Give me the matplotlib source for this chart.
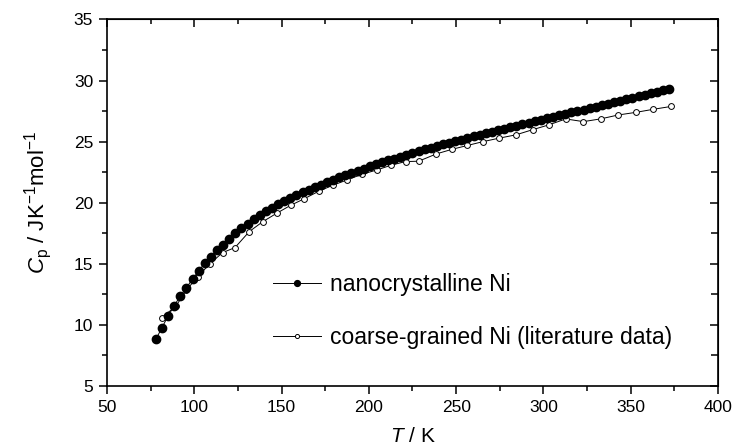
import matplotlib
matplotlib.use('Agg')
import matplotlib.pyplot as plt
from matplotlib.ticker import MultipleLocator

plt.rcParams['font.family'] = ['Liberation Sans', 'DejaVu Sans']
plt.rcParams['mathtext.fontset'] = 'custom'
plt.rcParams['mathtext.rm'] = 'Liberation Sans'
plt.rcParams['mathtext.it'] = 'Liberation Sans:italic'

# nanocrystalline Ni (filled circles)
t_nano = [78, 81.5, 85, 88.5, 92, 95.5, 99, 102.5, 106, 109.5,
          113, 116.5, 120, 123.5, 127, 130.5, 134, 137.5, 141, 144.5,
          148, 151.5, 155, 158.5, 162, 165.5, 169, 172.5, 176, 179.5,
          183, 186.5, 190, 193.5, 197, 200.5, 204, 207.5, 211, 214.5,
          218, 221.5, 225, 228.5, 232, 235.5, 239, 242.5, 246, 249.5,
          253, 256.5, 260, 263.5, 267, 270.5, 274, 277.5, 281, 284.5,
          288, 291.5, 295, 298.5, 302, 305.5, 309, 312.5, 316, 319.5,
          323, 326.5, 330, 333.5, 337, 340.5, 344, 347.5, 351, 354.5,
          358, 361.5, 365, 368.5, 372]
cp_nano = [8.83, 9.78, 10.74, 11.58, 12.37, 13.05, 13.76, 14.42, 15.05, 15.59,
           16.11, 16.57, 17.06, 17.50, 17.91, 18.29, 18.65, 18.98, 19.29, 19.58,
           19.86, 20.12, 20.37, 20.61, 20.84, 21.06, 21.28, 21.49, 21.69, 21.89,
           22.08, 22.27, 22.45, 22.63, 22.80, 22.97, 23.14, 23.30, 23.46, 23.62,
           23.77, 23.92, 24.07, 24.22, 24.36, 24.50, 24.64, 24.78, 24.91, 25.04,
           25.17, 25.30, 25.43, 25.56, 25.69, 25.82, 25.95, 26.07, 26.19, 26.31,
           26.43, 26.55, 26.67, 26.79, 26.91, 27.03, 27.15, 27.27, 27.39, 27.51,
           27.63, 27.75, 27.87, 27.99, 28.11, 28.23, 28.35, 28.47, 28.59, 28.71,
           28.83, 28.95, 29.07, 29.19, 29.31]

# coarse-grained Ni, literature data (open circles)
t_coarse = [81.5, 89.5, 95.5, 102, 108.8, 116.2, 123.3, 131.5, 139.2, 147.2,
            155.2, 163, 171.3, 179.3, 187.6, 196, 204.5, 212.7, 221, 228.5,
            238.7, 247.8, 256.5, 265.3, 274.4, 284.3, 293.8, 303, 312.8, 322.9,
            333, 342.7, 353, 363, 373]
cp_coarse = [10.6, 11.55, 12.86, 13.95, 14.99, 15.92, 16.33, 17.64, 18.45, 19.14,
             19.79, 20.33, 20.94, 21.43, 21.87, 22.33, 22.68, 23.07, 23.37, 23.40,
             24.0, 24.38, 24.69, 25.0, 25.28, 25.56, 25.98, 26.37, 26.86, 26.64,
             26.87, 27.18, 27.4, 27.65, 27.88]

fig = plt.figure(figsize=(7.33, 4.46), dpi=100)
ax = fig.add_axes([0.146, 0.1345, 0.8335, 0.8218])

l_coarse, = ax.plot(t_coarse, cp_coarse, '-o', color='black', lw=0.7,
                    ms=4.2, mfc='white', mec='black', mew=0.7,
                    label='coarse-grained Ni (literature data)')
l_nano, = ax.plot(t_nano, cp_nano, '-o', color='black', lw=0.7,
                  ms=6.0, mfc='black', mec='black',
                  label='nanocrystalline Ni')

ax.set_xlim(50, 400)
ax.set_ylim(5, 35)
ax.xaxis.set_major_locator(MultipleLocator(50))
ax.xaxis.set_minor_locator(MultipleLocator(25))
ax.yaxis.set_major_locator(MultipleLocator(5))
ax.yaxis.set_minor_locator(MultipleLocator(2.5))
ax.tick_params(which='both', direction='out', width=1.1, labelsize=12.5,
               colors='black', pad=4)
ax.tick_params(which='major', length=6)
ax.tick_params(which='minor', length=3.5)
for s in ax.spines.values():
    s.set_linewidth(1.2)

top = ax.secondary_xaxis('top')
top.xaxis.set_major_locator(MultipleLocator(50))
top.xaxis.set_minor_locator(MultipleLocator(25))
top.tick_params(which='both', direction='in', labeltop=False, width=1.1)
top.tick_params(which='major', length=6)
top.tick_params(which='minor', length=3.5)
right = ax.secondary_yaxis('right')
right.yaxis.set_major_locator(MultipleLocator(5))
right.yaxis.set_minor_locator(MultipleLocator(2.5))
right.tick_params(which='both', direction='in', labelright=False, width=1.1)
right.tick_params(which='major', length=6)
right.tick_params(which='minor', length=5)

ax.set_xlabel(r'$T$ / K', fontsize=15, labelpad=9)
ax.set_ylabel(r'$C_\mathrm{p}$ / JK$^{-1}$mol$^{-1}$', fontsize=16, labelpad=14)

ax.legend([l_nano, l_coarse],
          ['nanocrystalline Ni', 'coarse-grained Ni (literature data)'],
          loc='center left', bbox_to_anchor=(0.272, 0.205), frameon=False,
          fontsize=16.5, handlelength=2.1, handletextpad=0.4,
          labelspacing=1.3, borderpad=0, borderaxespad=0,
          numpoints=1, markerscale=0.7)

plt.savefig('out.png', dpi=100)
